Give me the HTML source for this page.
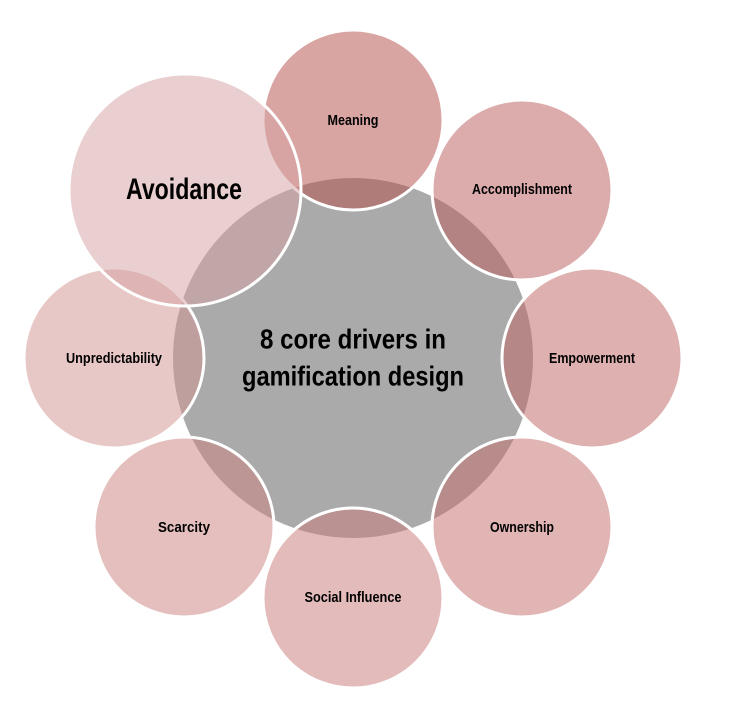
<!DOCTYPE html>
<html><head><style>
html,body{margin:0;padding:0;background:#fff;}
svg text{font-family:"Liberation Sans",sans-serif;fill:#000;text-anchor:middle;dominant-baseline:middle;}
</style></head><body>
<svg width="738" height="715" viewBox="0 0 738 715" xmlns="http://www.w3.org/2000/svg">
<circle cx="353" cy="358" r="180" fill="#aaaaaa"/>
<g stroke="#fff" stroke-width="3">
<circle cx="353" cy="120" r="90" fill="rgba(182,82,78,0.52)"/>
<circle cx="522" cy="190" r="90" fill="rgba(188,94,94,0.52)"/>
<circle cx="592" cy="358" r="90" fill="rgba(194,104,104,0.52)"/>
<circle cx="522" cy="527" r="90" fill="rgba(199,113,113,0.52)"/>
<circle cx="353" cy="598" r="90" fill="rgba(201,124,124,0.52)"/>
<circle cx="184" cy="527" r="90" fill="rgba(205,132,130,0.52)"/>
<circle cx="114" cy="358" r="90" fill="rgba(211,150,146,0.52)"/>
<circle cx="185" cy="190" r="116" fill="rgba(213,163,163,0.52)"/>
</g>
<g font-size="15" font-weight="bold">
<text x="353" y="121" textLength="51" lengthAdjust="spacingAndGlyphs">Meaning</text>
<text x="522" y="190" textLength="100" lengthAdjust="spacingAndGlyphs">Accomplishment</text>
<text x="592" y="359" textLength="86" lengthAdjust="spacingAndGlyphs">Empowerment</text>
<text x="522" y="528" textLength="64" lengthAdjust="spacingAndGlyphs">Ownership</text>
<text x="353" y="598" textLength="97" lengthAdjust="spacingAndGlyphs">Social Influence</text>
<text x="184" y="528" textLength="52" lengthAdjust="spacingAndGlyphs">Scarcity</text>
<text x="114" y="359" textLength="96" lengthAdjust="spacingAndGlyphs">Unpredictability</text>
</g>
<text x="184" y="191" font-size="30" font-weight="bold" textLength="116" lengthAdjust="spacingAndGlyphs">Avoidance</text>
<text x="353" y="341" font-size="28" font-weight="bold" textLength="186" lengthAdjust="spacingAndGlyphs">8 core drivers in</text>
<text x="353" y="378" font-size="28" font-weight="bold" textLength="222" lengthAdjust="spacingAndGlyphs">gamification design</text>
</svg>
</body></html>
